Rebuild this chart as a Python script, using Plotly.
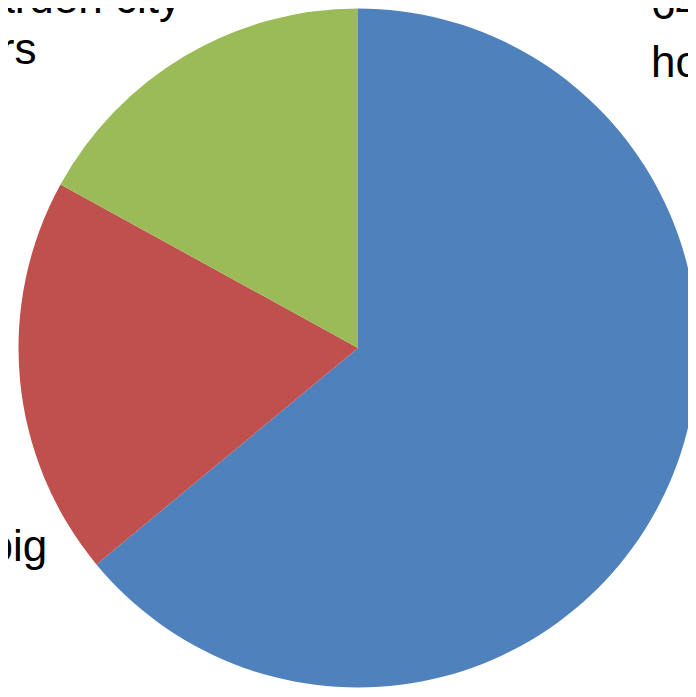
import plotly.graph_objects as go

W, H = 696, 697

categories = ["homeowners", "big city", "Garden city dwellers"]
values = [64, 19, 17]
colors = ["#4F81BD", "#C0504D", "#9BBB59"]

# label lines (text, x px, baseline y px, anchor)
label_lines = [
    ("Garden city", 174, 5, "right"),
    ("dwellers", 29, 56, "right"),
    ("64%", 642, 11, "left"),
    ("homeowners", 642, 69, "left"),
    ("Live in big", 40, 553, "right"),
]

FS = 44

cx, cy0, r = 350, 340, 339.5

fig = go.Figure(go.Pie(
    labels=categories,
    values=values,
    marker=dict(colors=colors, line=dict(width=0)),
    sort=False,
    direction="clockwise",
    rotation=0,
    textinfo="none",
    hoverinfo="label+percent",
    showlegend=False,
    domain=dict(x=[(cx - r) / W, (cx + r) / W], y=[(H - cy0 - r) / H, (H - cy0 + r) / H]),
))

for txt, xp, base, anc in label_lines:
    cy = base - 0.3465 * FS
    fig.add_annotation(
        text=txt, x=xp / W, y=1 - cy / H, xref="paper", yref="paper",
        xanchor=anc, yanchor="middle", showarrow=False,
        font=dict(family="Liberation Sans, Arial", size=FS, color="#000000"),
        borderpad=0,
    )

fig.update_layout(
    width=W, height=H,
    margin=dict(l=0, r=0, t=0, b=0),
    paper_bgcolor="white", plot_bgcolor="white",
)

fig.write_html("out.html")
